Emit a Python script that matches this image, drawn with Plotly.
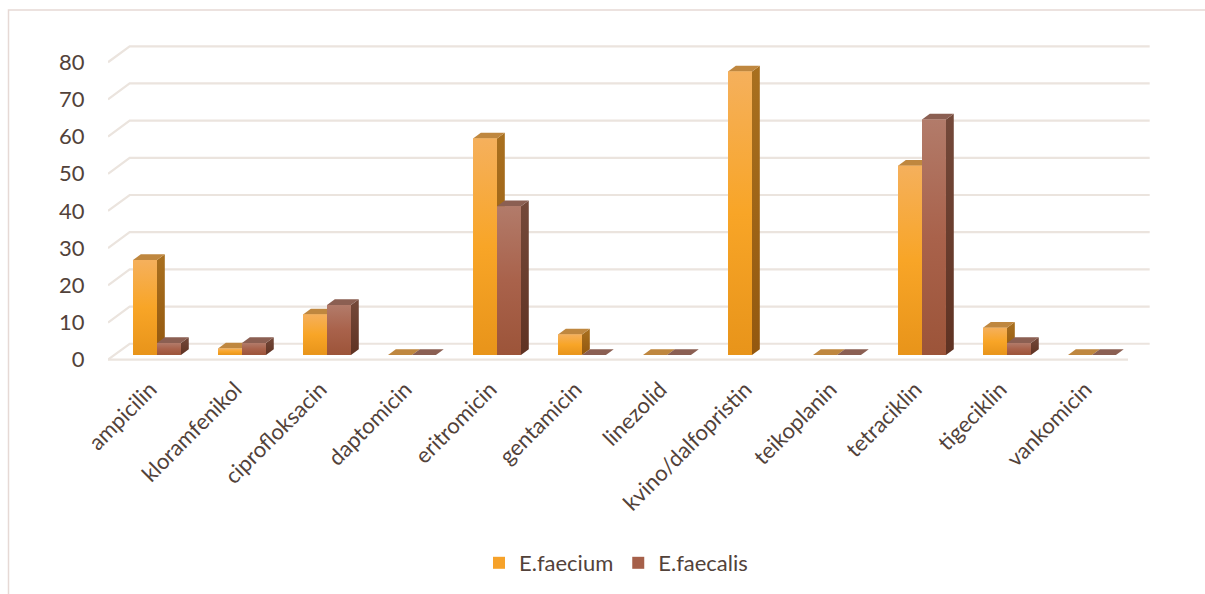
import plotly.graph_objects as go

# ---------------- data ----------------
categories = ["ampicilin", "kloramfenikol", "ciprofloksacin", "daptomicin", "eritromicin",
              "gentamicin", "linezolid", "kvino/dalfopristin", "teikoplanin", "tetraciklin",
              "tigeciklin", "vankomicin"]
faecium = [25.5, 1.7, 10.9, 0, 58.2, 5.5, 0, 76.2, 0, 50.9, 7.3, 0]
faecalis = [3.2, 3.2, 13.4, 0, 40.0, 0, 0, None, 0, 63.3, 3.2, 0]
y_ticks = [0, 10, 20, 30, 40, 50, 60, 70, 80]

# ---------------- style / geometry ----------------
FONT = "Lato"
TXT = "#52423a"
GRID = "#ebe4de"
W, H = 1205, 594
ML, MR, MT, MB = 108, 55, 40, 232
X_RANGE = [-0.5, 11.7588]
Y_RANGE = [-0.35, 85.98]
DEPTH_X, DEPTH_Y = 0.255, 4.29        # full floor depth in data units
F0, FD = 0.30, 0.36                   # bar front depth fraction, bar depth fraction
BW = 0.282                            # single bar width (category units)
LABEL_SHIFT = 0.0                     # category label anchor shift (category units)

series = [
    dict(name="E.faecium", vals=faecium, offset=-BW, mid="#f6a22a",
         front=["#e8941a", "#f8a527", "#f5b05c"], side=["#93580f", "#a9701f"], top="#bf873f"),
    dict(name="E.faecalis", vals=faecalis, offset=0.0, mid="#a6604a",
         front=["#9c5439", "#a9624b", "#b27b6a"], side=["#5f3222", "#74493a"], top="#8b5f52"),
]

fig = go.Figure()

# back-wall gridlines (with left-wall diagonal) derived from tick values
xl, xr = -0.5, len(categories) - 0.5
for t in y_ticks:
    fig.add_trace(go.Scatter(x=[xl, xl + DEPTH_X, xr + DEPTH_X], y=[t, t + DEPTH_Y, t + DEPTH_Y],
                             mode="lines", line=dict(color=GRID, width=2.2),
                             hoverinfo="skip", showlegend=False))
# floor front edge
fig.add_trace(go.Scatter(x=[xl, xr], y=[0, 0], mode="lines", line=dict(color=GRID, width=2.2),
                         hoverinfo="skip", showlegend=False))

dx0, dy0 = F0 * DEPTH_X, F0 * DEPTH_Y
ddx, ddy = FD * DEPTH_X, FD * DEPTH_Y

# legend / front faces as real bars
for s in series:
    fig.add_trace(go.Bar(x=[i + dx0 for i in range(len(categories))], y=s["vals"], base=dy0,
                         width=BW, offset=s["offset"], name=s["name"],
                         marker=dict(color=s["mid"], line=dict(width=0)), hoverinfo="skip"))

# 3D faces
for s in series:
    for i, v in enumerate(s["vals"]):
        if v is None:
            continue
        x0 = i + dx0 + s["offset"]
        x1 = x0 + BW
        b = dy0
        tp = b + v
        # side face
        if v > 0:
            fig.add_trace(go.Scatter(
                x=[x1, x1 + ddx, x1 + ddx, x1, x1], y=[b, b + ddy, tp + ddy, tp, b],
                fill="toself", mode="lines", line=dict(width=0),
                fillgradient=dict(type="vertical", colorscale=[[0, s["side"][0]], [1, s["side"][1]]]),
                hoverinfo="skip", showlegend=False))
        # top face
        fig.add_trace(go.Scatter(
            x=[x0, x1, x1 + ddx, x0 + ddx, x0], y=[tp, tp, tp + ddy, tp + ddy, tp],
            fill="toself", mode="lines", line=dict(width=0), fillcolor=s["top"],
            hoverinfo="skip", showlegend=False))
        # front face with gradient
        if v > 0:
            fig.add_trace(go.Scatter(
                x=[x0, x1, x1, x0, x0], y=[b, b, tp, tp, b],
                fill="toself", mode="lines", line=dict(width=0),
                fillgradient=dict(type="vertical",
                                  colorscale=[[0, s["front"][0]], [0.5, s["front"][1]], [1, s["front"][2]]]),
                hoverinfo="skip", showlegend=False))

pw = W - ML - MR
ph = H - MT - MB


def px_x(px):
    return (px - ML) / pw


def px_y(py):
    return (H - MB - py) / ph


fig.update_layout(
    width=W, height=H,
    margin=dict(l=ML, r=MR, t=MT, b=MB),
    paper_bgcolor="white", plot_bgcolor="white",
    barmode="overlay",
    font=dict(family=FONT, size=22, color=TXT),
    xaxis=dict(range=X_RANGE, tickmode="array",
               tickvals=[i + LABEL_SHIFT for i in range(len(categories))],
               ticktext=categories, tickangle=-45, showgrid=False, zeroline=False,
               showline=False, ticks="outside", ticklen=6, tickcolor="rgba(0,0,0,0)",
               fixedrange=True),
    yaxis=dict(range=Y_RANGE, tickmode="array", tickvals=y_ticks, showgrid=False,
               zeroline=False, showline=False, ticks="outside", ticklen=18,
               tickcolor="rgba(0,0,0,0)", fixedrange=True),
    legend=dict(orientation="h", x=px_x(616), y=px_y(563), xanchor="center", yanchor="middle",
                font=dict(size=22, color=TXT), itemsizing="constant", traceorder="normal"),
    shapes=[dict(type="rect", xref="paper", yref="paper",
                 x0=px_x(8.5), x1=px_x(1215), y0=px_y(604), y1=px_y(10),
                 line=dict(color="#e6d9d5", width=1.5), fillcolor="rgba(0,0,0,0)", layer="below")],
)

fig.write_html("out.html")
